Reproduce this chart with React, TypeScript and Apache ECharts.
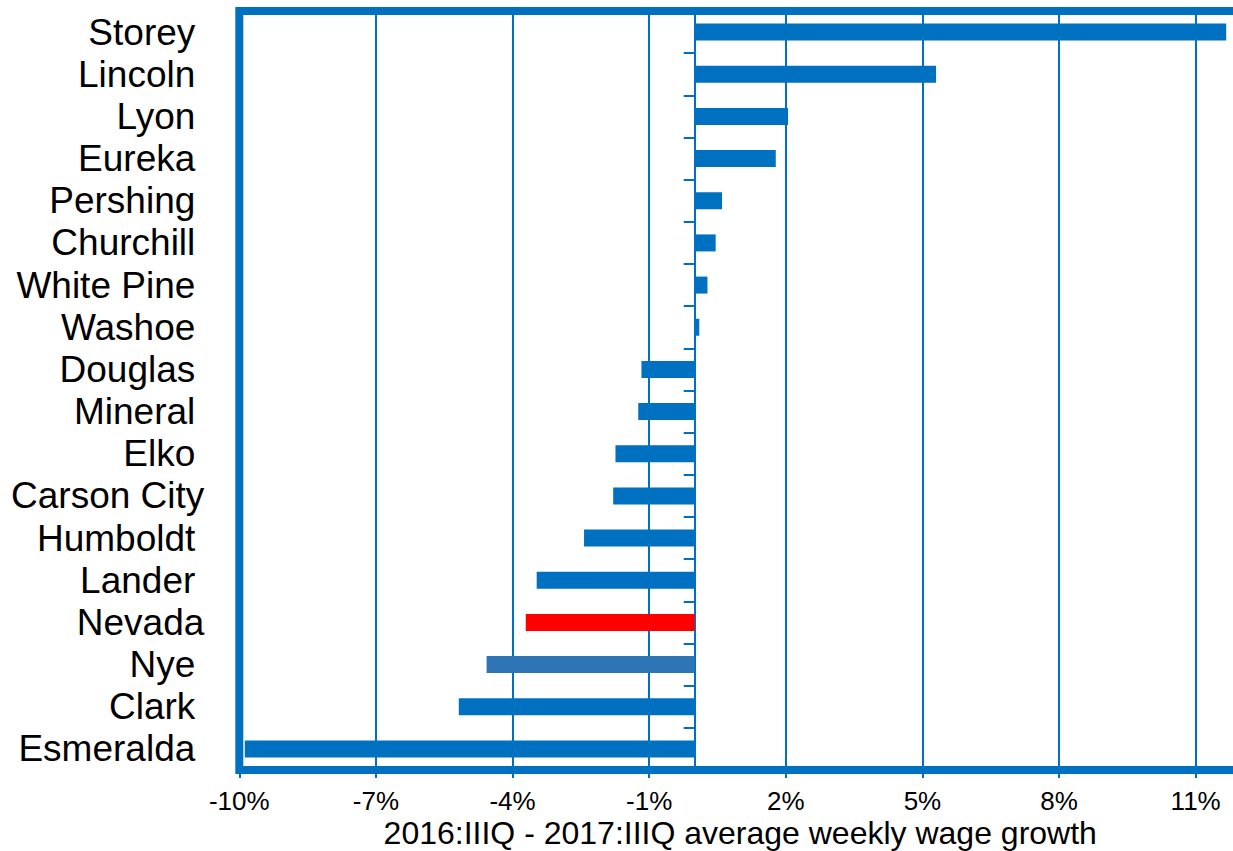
import React, { useEffect, useRef } from "react";
import * as echarts from "echarts";

const counties = [
  "Storey", "Lincoln", "Lyon", "Eureka", "Pershing", "Churchill", "White Pine", "Washoe",
  "Douglas", "Mineral", "Elko", "Carson City", "Humboldt", "Lander", "Nevada", "Nye", "Clark", "Esmeralda",
];
const growth = [
  11.67, 5.3, 2.05, 1.78, 0.6, 0.46, 0.28, 0.1,
  -1.17, -1.24, -1.74, -1.79, -2.43, -3.47, -3.71, -4.57, -5.18, -9.88,
];
const tightLabels = ["Carson City", "Nevada"];
const barColor = "#0070C0";
const specialColors: Record<string, string> = { Nevada: "#FF0000", Nye: "#2E75B6" };
const axisTitle = "2016:IIIQ - 2017:IIIQ average weekly wage growth";

export default function App() {
  const ref = useRef<HTMLDivElement>(null);
  useEffect(() => {
    if (!ref.current) return;
    const chart = echarts.init(ref.current, undefined, { renderer: "svg" });
    const font = "'Liberation Sans', Arial, sans-serif";
    chart.setOption({
      animation: false,
      grid: {
        left: 239.3,
        right: 18.8,
        top: 11,
        bottom: 81,
        show: true,
        borderColor: barColor,
        borderWidth: 8,
        backgroundColor: "transparent",
        containLabel: false,
        outerBoundsMode: "none",
      },
      xAxis: {
        type: "value",
        min: -10,
        max: 12,
        interval: 3,
        axisLine: { show: false },
        axisTick: { show: true, length: 8, lineStyle: { color: barColor, width: 2 } },
        splitLine: { show: true, lineStyle: { color: barColor, width: 2 } },
        axisLabel: {
          formatter: "{value}%",
          showMaxLabel: false,
          color: "#000",
          fontSize: 26,
          lineHeight: 24,
          fontFamily: font,
          margin: 19,
        },
        name: axisTitle,
        nameLocation: "middle",
        nameGap: 47,
        nameMoveOverlap: false,
        nameTextStyle: { color: "#000", fontSize: 32, fontFamily: font },
      },
      yAxis: [
        {
          type: "category",
          data: counties,
          inverse: true,
          position: "left",
          axisLine: { show: false, onZero: false },
          axisTick: { show: false },
          splitLine: { show: false },
          axisLabel: {
            interval: 0,
            margin: 35,
            color: "#000",
            fontSize: 37,
            fontFamily: font,
            formatter: (v: string) => (tightLabels.includes(v) ? `{t|${v}}` : `{p|${v}}`),
            rich: {
              t: { fontSize: 37, fontFamily: font, color: "#000" },
              p: { fontSize: 37, fontFamily: font, color: "#000", padding: [0, 9, 0, 0] },
            },
          },
        },
        {
          type: "category",
          data: counties,
          inverse: true,
          position: "left",
          axisLine: { show: true, onZero: true, lineStyle: { color: barColor, width: 2 } },
          axisTick: { show: true, interval: 0, length: 11, lineStyle: { color: barColor, width: 2 } },
          axisLabel: { show: false, interval: 0 },
          splitLine: { show: false },
        },
      ],
      series: [
        {
          type: "bar",
          yAxisIndex: 1,
          barWidth: 17,
          data: growth.map((v, i) => ({
            value: v,
            itemStyle: { color: specialColors[counties[i]] || barColor },
          })),
        },
      ],
    });
    return () => chart.dispose();
  }, []);
  return (
    <div
      ref={ref}
      style={{ position: "fixed", left: 0, top: 0, width: 1260, height: 851, background: "#fff" }}
    />
  );
}
